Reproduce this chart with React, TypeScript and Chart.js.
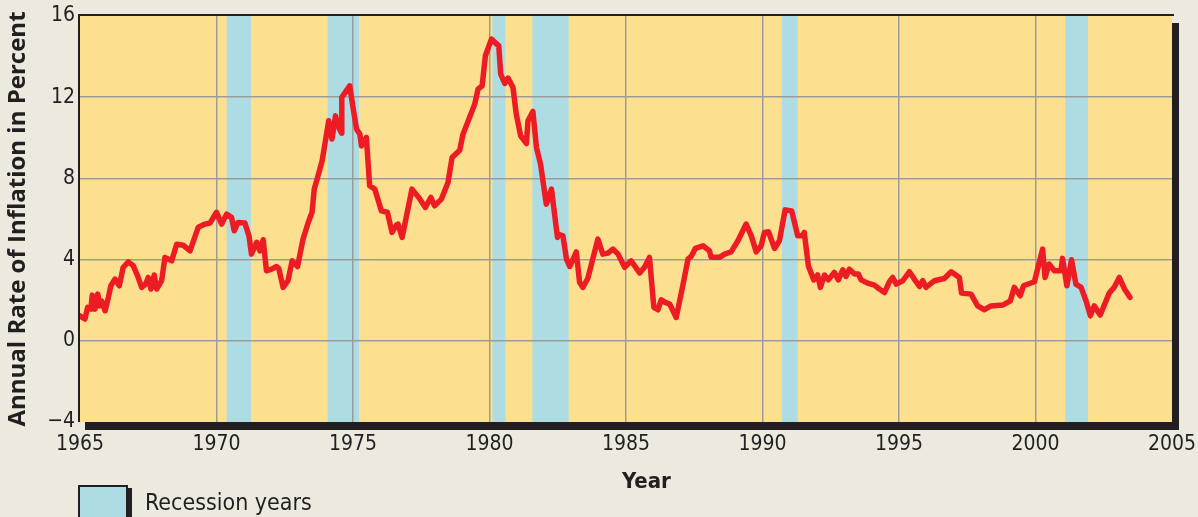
import React, { useEffect, useRef } from 'react';
import { Chart, registerables } from 'chart.js';

Chart.register(...registerables);

// ---- data ----
const years = [
  1965.00, 1965.18, 1965.28, 1965.40, 1965.45, 1965.55, 1965.65, 1965.73, 1965.79, 1965.92,
  1966.04, 1966.13, 1966.28, 1966.44, 1966.58, 1966.77, 1966.95, 1967.11, 1967.26, 1967.40,
  1967.50, 1967.60, 1967.72, 1967.81, 1967.99, 1968.11, 1968.36, 1968.54, 1968.78, 1969.03,
  1969.33, 1969.58, 1969.76, 1970.00, 1970.19, 1970.37, 1970.55, 1970.65, 1970.79, 1971.04,
  1971.19, 1971.28, 1971.47, 1971.59, 1971.71, 1971.83, 1972.02, 1972.20, 1972.28, 1972.44,
  1972.62, 1972.77, 1972.97, 1973.17, 1973.36, 1973.50, 1973.58, 1973.72, 1973.87, 1973.99,
  1974.11, 1974.23, 1974.36, 1974.45, 1974.58, 1974.59, 1974.88, 1975.00, 1975.13, 1975.25,
  1975.31, 1975.49, 1975.61, 1975.80, 1976.04, 1976.26, 1976.43, 1976.59, 1976.65, 1976.80,
  1977.16, 1977.41, 1977.65, 1977.85, 1977.99, 1978.24, 1978.48, 1978.63, 1978.91, 1979.03,
  1979.46, 1979.58, 1979.73, 1979.85, 1980.07, 1980.34, 1980.41, 1980.56, 1980.68, 1980.86,
  1980.98, 1981.14, 1981.35, 1981.41, 1981.59, 1981.72, 1981.87, 1982.08, 1982.27, 1982.49,
  1982.53, 1982.69, 1982.82, 1982.94, 1983.18, 1983.30, 1983.42, 1983.60, 1983.97, 1984.15,
  1984.34, 1984.52, 1984.71, 1984.95, 1985.19, 1985.50, 1985.68, 1985.86, 1986.02, 1986.17,
  1986.29, 1986.44, 1986.60, 1986.84, 1987.08, 1987.27, 1987.39, 1987.54, 1987.82, 1988.06,
  1988.12, 1988.43, 1988.61, 1988.85, 1989.10, 1989.40, 1989.59, 1989.77, 1989.95, 1990.07,
  1990.22, 1990.44, 1990.62, 1990.83, 1991.07, 1991.29, 1991.47, 1991.53, 1991.68, 1991.88,
  1992.02, 1992.12, 1992.27, 1992.41, 1992.63, 1992.78, 1992.94, 1993.06, 1993.18, 1993.37,
  1993.51, 1993.61, 1993.85, 1994.10, 1994.28, 1994.47, 1994.65, 1994.77, 1994.90, 1995.14,
  1995.38, 1995.56, 1995.75, 1995.87, 1995.99, 1996.30, 1996.66, 1996.91, 1997.21, 1997.29,
  1997.64, 1997.88, 1998.13, 1998.37, 1998.80, 1999.08, 1999.22, 1999.44, 1999.56, 1999.96,
  2000.26, 2000.35, 2000.50, 2000.69, 2000.93, 2000.99, 2001.15, 2001.32, 2001.48, 2001.67,
  2001.85, 2002.01, 2002.15, 2002.37, 2002.70, 2002.88, 2003.07, 2003.26, 2003.46,
];

const inflation = [
  1.23, 1.07, 1.65, 1.56, 2.25, 1.56, 2.30, 1.72, 1.97, 1.48,
  2.14, 2.71, 3.04, 2.71, 3.61, 3.89, 3.70, 3.20, 2.63, 2.79,
  3.12, 2.55, 3.24, 2.55, 2.96, 4.10, 3.94, 4.76, 4.71, 4.43,
  5.59, 5.75, 5.80, 6.33, 5.75, 6.24, 6.08, 5.42, 5.83, 5.80,
  5.17, 4.27, 4.85, 4.43, 4.98, 3.45, 3.53, 3.66, 3.57, 2.63,
  2.96, 3.94, 3.66, 5.01, 5.83, 6.33, 7.47, 8.13, 8.87, 9.85,
  10.84, 9.94, 11.08, 10.59, 10.23, 11.99, 12.56, 11.50, 10.43, 10.18,
  9.60, 10.02, 7.64, 7.47, 6.40, 6.33, 5.34, 5.70, 5.75, 5.09,
  7.47, 7.06, 6.57, 7.06, 6.65, 6.98, 7.80, 9.03, 9.39, 10.18,
  11.66, 12.40, 12.56, 14.04, 14.86, 14.53, 13.14, 12.68, 12.94, 12.48,
  11.17, 10.10, 9.72, 10.84, 11.30, 9.53, 8.70, 6.73, 7.47, 5.09,
  5.25, 5.17, 4.02, 3.66, 4.38, 2.88, 2.63, 3.07, 5.01, 4.27,
  4.32, 4.52, 4.27, 3.62, 3.94, 3.34, 3.62, 4.11, 1.65, 1.53,
  2.02, 1.89, 1.81, 1.15, 2.71, 4.02, 4.16, 4.55, 4.68, 4.43,
  4.11, 4.11, 4.27, 4.38, 4.93, 5.75, 5.17, 4.38, 4.68, 5.34,
  5.37, 4.55, 4.93, 6.45, 6.40, 5.17, 5.17, 5.34, 3.69, 3.00,
  3.24, 2.63, 3.24, 3.00, 3.37, 3.00, 3.50, 3.17, 3.53, 3.29,
  3.29, 3.00, 2.84, 2.74, 2.55, 2.38, 2.91, 3.12, 2.79, 2.96,
  3.40, 3.04, 2.68, 2.96, 2.63, 2.96, 3.07, 3.40, 3.12, 2.35,
  2.30, 1.72, 1.53, 1.72, 1.76, 1.97, 2.63, 2.22, 2.71, 2.91,
  4.52, 3.12, 3.78, 3.45, 3.45, 4.06, 2.71, 3.99, 2.79, 2.63,
  1.97, 1.23, 1.72, 1.27, 2.35, 2.63, 3.12, 2.55, 2.14,
];

const recessionStarts = [1970.37, 1974.07, 1980.11, 1981.57, 1990.71, 2001.09];
const recessionEnds = [1971.26, 1975.22, 1980.59, 1982.90, 1991.29, 2001.92];

const xTickValues = [1965, 1970, 1975, 1980, 1985, 1990, 1995, 2000, 2005];
const yTickValues = [-4, 0, 4, 8, 12, 16];

const xTitle = 'Year';
const yTitle = 'Annual Rate of Inflation in Percent';
const legendLabel = 'Recession years';

// ---- styles ----
const PAGE_BG = '#EDE9DF';
const PLOT_BG = '#FDE08F';
const BAND = '#AEDCE3';
const LINE = '#ED1C24';
const GRID = '#9B9B9B';
const DARK = '#231F20';
const TICK_FONT = "'DejaVu Sans Condensed', 'DejaVu Sans', sans-serif";
const TITLE_FONT = "'Open Sans', 'DejaVu Sans', sans-serif";

const framePlugin = {
  id: 'frame',
  beforeDraw(chart: any) {
    const { ctx, chartArea, scales } = chart;
    const { left, top, right, bottom } = chartArea;
    ctx.save();
    // shadow
    ctx.fillStyle = DARK;
    ctx.fillRect(left + 5, top + 7, right - left + 2, bottom - top + 1);
    // plot background
    ctx.fillStyle = PLOT_BG;
    ctx.fillRect(left, top, right - left, bottom - top);
    // recession bands
    ctx.fillStyle = BAND;
    const xs = scales.x;
    for (let i = 0; i < recessionStarts.length; i++) {
      const x0 = xs.getPixelForValue(recessionStarts[i]);
      const x1 = xs.getPixelForValue(recessionEnds[i]);
      ctx.fillRect(x0, top, x1 - x0, bottom - top);
    }
    ctx.restore();
  },
  beforeDatasetsDraw(chart: any) {
    const { ctx, chartArea } = chart;
    const { left, top, right, bottom } = chartArea;
    ctx.save();
    ctx.strokeStyle = DARK;
    ctx.lineWidth = 2;
    ctx.beginPath();
    ctx.moveTo(left - 1, bottom);
    ctx.lineTo(left - 1, top - 1);
    ctx.lineTo(right + 2, top - 1);
    ctx.stroke();
    ctx.restore();
  },
};

export default function App() {
  const canvasRef = useRef<HTMLCanvasElement | null>(null);

  useEffect(() => {
    document.body.style.margin = '0';
    document.body.style.background = PAGE_BG;
    const canvas = canvasRef.current;
    if (!canvas) return;
    const data = years.map((x, i) => ({ x, y: inflation[i] }));
    const chart = new Chart(canvas, {
      type: 'line',
      data: {
        datasets: [
          {
            label: 'Inflation',
            data,
            borderColor: LINE,
            borderWidth: 5.5,
            borderJoinStyle: 'round',
            borderCapStyle: 'round',
            pointRadius: 0,
            tension: 0,
            fill: false,
          },
        ],
      },
      options: {
        responsive: false,
        animation: false,
        devicePixelRatio: 1,
        layout: { padding: { left: 0, right: 26, top: 16, bottom: 0 } },
        plugins: {
          legend: { display: false },
          tooltip: { enabled: false },
        },
        scales: {
          x: {
            type: 'linear',
            min: 1965,
            max: 2005,
            afterBuildTicks: (scale: any) => {
              scale.ticks = xTickValues.map((v) => ({ value: v }));
            },
            afterFit: (scale: any) => {
              scale.height = 95;
              scale.paddingLeft = 0;
              scale.paddingRight = 0;
            },
            grid: {
              color: (c: any) =>
                c.tick && (c.tick.value === 1965 || c.tick.value === 2005) ? 'rgba(0,0,0,0)' : GRID,
              lineWidth: 1.5,
              drawTicks: false,
            },
            border: { display: false },
            ticks: {
              padding: 10,
              color: DARK,
              font: { family: TICK_FONT, size: 21 },
              maxRotation: 0,
              autoSkip: false,
              callback: (v: any) => String(v),
            },
          },
          y: {
            min: -4,
            max: 16,
            afterBuildTicks: (scale: any) => {
              scale.ticks = yTickValues.map((v) => ({ value: v }));
            },
            afterFit: (scale: any) => {
              scale.width = 80;
              scale.paddingTop = 0;
              scale.paddingBottom = 0;
            },
            grid: {
              color: (c: any) =>
                c.tick && (c.tick.value === -4 || c.tick.value === 16) ? 'rgba(0,0,0,0)' : GRID,
              lineWidth: 1.5,
              drawTicks: false,
            },
            border: { display: false },
            title: {
              display: true,
              text: yTitle,
              color: DARK,
              font: { family: TITLE_FONT, size: 24, weight: 'bold' },
              padding: { top: 4, bottom: 0 },
            },
            ticks: {
              padding: 5,
              color: DARK,
              font: { family: TICK_FONT, size: 21 },
              autoSkip: false,
              callback: (v: any) => (v < 0 ? '\u2212' + Math.abs(v) : String(v)),
            },
          },
        },
      },
      plugins: [framePlugin],
    } as any);
    return () => chart.destroy();
  }, []);

  return (
    <div style={{ position: 'relative', width: 1198, height: 517, background: PAGE_BG, overflow: 'hidden' }}>
      <canvas ref={canvasRef} width={1198} height={517} style={{ display: 'block' }} />
      <div
        style={{
          position: 'absolute',
          left: 622,
          top: 467,
          fontFamily: TICK_FONT,
          fontWeight: 'bold',
          fontSize: 22,
          color: DARK,
          lineHeight: '28px',
        }}
      >
        {xTitle}
      </div>
      <div
        style={{
          position: 'absolute',
          left: 78,
          top: 485,
          width: 46,
          height: 36,
          background: BAND,
          border: `2px solid ${DARK}`,
          boxShadow: `4px 3px 0 ${DARK}`,
        }}
      />
      <div
        style={{
          position: 'absolute',
          left: 145,
          top: 488,
          fontFamily: TICK_FONT,
          fontSize: 23,
          color: DARK,
          lineHeight: '28px',
          whiteSpace: 'nowrap',
        }}
      >
        {legendLabel}
      </div>
    </div>
  );
}
